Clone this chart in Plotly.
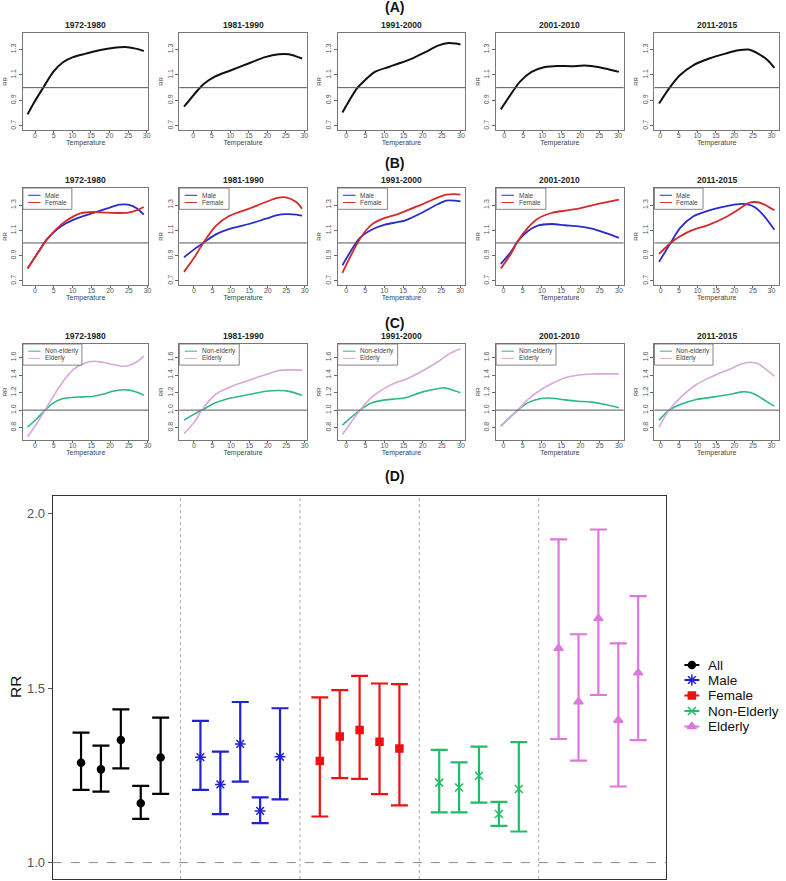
import plotly.graph_objects as go

W, H = 786, 881

periods = ["1972-1980", "1981-1990", "1991-2000", "2001-2010", "2011-2015"]

# ---------------- Panel A: all ----------------
tempA = [
    [-2.0, -0.4, 2.2, 4.9, 7.5, 10.2, 13.7, 17.2, 20.8, 24.3, 27.0, 29.2],
    [-2.5, 1.2, 3.0, 5.7, 10.2, 14.9, 19.4, 23.1, 25.8, 29.4],
    [-1.0, 2.7, 4.0, 7.5, 11.1, 13.7, 17.2, 20.7, 24.2, 26.8, 28.6, 29.9],
    [-0.9, 1.9, 4.1, 7.2, 10.7, 14.2, 17.7, 21.2, 24.7, 27.4, 30.2],
    [-0.3, 2.7, 5.3, 8.9, 13.2, 17.6, 21.1, 23.8, 26.4, 29.0, 30.8],
]
rrA = [
    [0.79, 0.876, 1.0, 1.124, 1.20, 1.24, 1.268, 1.294, 1.312, 1.32, 1.307, 1.289],
    [0.85, 0.98, 1.033, 1.085, 1.137, 1.19, 1.24, 1.263, 1.263, 1.229],
    [0.805, 0.99, 1.033, 1.124, 1.163, 1.19, 1.229, 1.28, 1.333, 1.351, 1.347, 1.339],
    [0.829, 0.955, 1.046, 1.124, 1.163, 1.171, 1.169, 1.174, 1.163, 1.145, 1.124],
    [0.876, 1.006, 1.098, 1.176, 1.229, 1.268, 1.294, 1.30, 1.268, 1.216, 1.155],
]

# ---------------- Panel B: sex ----------------
tempB = [
    [-2.0, 0.45, 3.1, 5.8, 8.4, 11.9, 15.5, 19.0, 22.5, 24.8, 27.0, 29.0],
    [-2.7, 0.3, 2.5, 5.8, 9.4, 14.9, 19.5, 22.6, 24.9, 27.7, 29.3],
    [-1.0, 3.6, 6.7, 10.2, 13.2, 15.4, 19.8, 24.2, 26.4, 28.6, 30.1],
    [-0.7, 1.9, 3.7, 6.3, 8.9, 12.5, 16.0, 19.5, 23.0, 26.5, 30.0],
    [-0.4, 2.7, 5.3, 8.9, 13.2, 17.6, 21.1, 23.8, 25.6, 27.8, 30.8],
]
maleB = [
    [0.797, 0.908, 1.026, 1.105, 1.158, 1.203, 1.237, 1.271, 1.303, 1.303, 1.277, 1.224],
    [0.887, 0.955, 1.0, 1.066, 1.11, 1.150, 1.192, 1.22, 1.228, 1.225, 1.216],
    [0.823, 1.040, 1.105, 1.145, 1.163, 1.177, 1.237, 1.308, 1.335, 1.335, 1.329],
    [0.834, 0.929, 1.013, 1.092, 1.137, 1.150, 1.140, 1.132, 1.113, 1.079, 1.040],
    [0.850, 1.0, 1.119, 1.211, 1.258, 1.290, 1.308, 1.303, 1.28, 1.22, 1.105],
]
femaleB = [
    [0.797, 0.908, 1.026, 1.113, 1.177, 1.232, 1.245, 1.240, 1.237, 1.240, 1.258, 1.285],
    [0.771, 0.895, 1.0, 1.132, 1.211, 1.271, 1.324, 1.356, 1.361, 1.324, 1.271],
    [0.763, 1.032, 1.145, 1.198, 1.224, 1.250, 1.303, 1.361, 1.382, 1.387, 1.382],
    [0.797, 0.913, 1.013, 1.119, 1.192, 1.237, 1.256, 1.271, 1.298, 1.321, 1.343],
    [0.913, 1.0, 1.053, 1.105, 1.145, 1.203, 1.264, 1.316, 1.324, 1.308, 1.258],
]

# ---------------- Panel C: age ----------------
tempC = [
    [-2.0, 0.45, 2.65, 4.9, 7.5, 10.2, 12.8, 15.5, 18.0, 20.8, 23.4, 25.2, 27.4, 29.0],
    [-2.7, 0.3, 2.1, 5.8, 10.3, 14.9, 19.5, 23.1, 25.8, 29.3],
    [-1.0, 3.6, 6.7, 10.2, 13.2, 15.4, 19.8, 24.2, 25.6, 27.4, 29.9],
    [-0.7, 3.7, 6.3, 9.8, 12.5, 16.0, 19.5, 23.0, 26.5, 30.0],
    [-0.4, 2.3, 5.3, 9.7, 14.1, 18.5, 22.0, 24.3, 26.4, 28.6, 30.8],
]
nonelderlyC = [
    [0.807, 0.902, 1.0, 1.083, 1.133, 1.146, 1.151, 1.158, 1.18, 1.216, 1.232, 1.228, 1.20, 1.17],
    [0.886, 0.96, 1.0, 1.083, 1.140, 1.178, 1.216, 1.223, 1.214, 1.170],
    [0.830, 1.0, 1.083, 1.117, 1.129, 1.140, 1.205, 1.246, 1.254, 1.235, 1.197],
    [0.818, 1.0, 1.083, 1.133, 1.136, 1.117, 1.102, 1.091, 1.064, 1.027],
    [0.886, 1.0, 1.064, 1.121, 1.148, 1.178, 1.208, 1.20, 1.16, 1.10, 1.045],
]
elderlyC = [
    [0.697, 0.848, 1.0, 1.159, 1.330, 1.462, 1.527, 1.557, 1.545, 1.519, 1.50, 1.511, 1.557, 1.614],
    [0.731, 0.875, 1.0, 1.178, 1.273, 1.341, 1.405, 1.451, 1.458, 1.455],
    [0.723, 1.0, 1.148, 1.254, 1.318, 1.348, 1.443, 1.557, 1.60, 1.652, 1.70],
    [0.818, 1.0, 1.121, 1.235, 1.30, 1.368, 1.40, 1.412, 1.413, 1.413],
    [0.807, 1.0, 1.140, 1.292, 1.386, 1.462, 1.527, 1.545, 1.527, 1.462, 1.386],
]

# ---------------- Panel D: overall RR with CI ----------------
groups = ["All", "Male", "Female", "Non-Elderly", "Elderly"]
rr_all = [1.286, 1.267, 1.351, 1.170, 1.301]
lo_all = [1.208, 1.203, 1.270, 1.125, 1.197]
hi_all = [1.372, 1.335, 1.439, 1.220, 1.415]
rr_male = [1.302, 1.224, 1.340, 1.148, 1.303]
lo_male = [1.208, 1.139, 1.232, 1.113, 1.181]
hi_male = [1.406, 1.318, 1.460, 1.187, 1.442]
rr_female = [1.291, 1.361, 1.380, 1.346, 1.327]
lo_female = [1.132, 1.242, 1.240, 1.196, 1.164]
hi_female = [1.473, 1.494, 1.535, 1.513, 1.511]
rr_nonelderly = [1.229, 1.215, 1.249, 1.139, 1.211]
lo_nonelderly = [1.144, 1.144, 1.172, 1.105, 1.089]
hi_nonelderly = [1.323, 1.287, 1.332, 1.174, 1.345]
rr_elderly = [1.614, 1.461, 1.699, 1.408, 1.544]
lo_elderly = [1.354, 1.292, 1.480, 1.218, 1.351]
hi_elderly = [1.926, 1.654, 1.954, 1.628, 1.763]

# ---------------- layout geometry (pixels) ----------------
col_px = [(23, 149), (180, 308), (339, 467), (498, 626), (657, 782)]
row_px = [(33, 130), (188, 285), (344, 440)]
row_yrange = [(0.667, 1.43), (0.667, 1.435), (0.66, 1.753)]
row_ticks = [[0.7, 0.9, 1.1, 1.3], [0.7, 0.9, 1.1, 1.3], [0.8, 1.0, 1.2, 1.4, 1.6]]
section_y = [7, 163, 323, 476]
section_lbl = ["(A)", "(B)", "(C)", "(D)"]
D_px = (53, 669, 496, 879)
leg_px = (678, 786, 655, 740)
leg_rows_y = [665, 680, 695.5, 711, 726.5]

FONT = "Liberation Sans, Arial, sans-serif"
BLUE_L = "#2B2BCB"
RED_L = "#D42A2A"
GREEN_L = "#2EB886"
PINK_L = "#D9A6DE"

def xd(a, b):
    return [a / W, b / W]

def yd(t, b):
    return [1 - b / H, 1 - t / H]

fig = go.Figure()
layout = dict(
    width=W, height=H, margin=dict(l=0, r=0, t=0, b=0),
    paper_bgcolor="white", plot_bgcolor="white",
    font=dict(family=FONT, color="#222"),
    showlegend=False,
)
shapes = []
annotations = []

series_by_row = [
    [(tempA, rrA, "#111111", 2.0)],
    [(tempB, maleB, BLUE_L, 1.8), (tempB, femaleB, RED_L, 1.8)],
    [(tempC, nonelderlyC, GREEN_L, 1.6), (tempC, elderlyC, PINK_L, 1.6)],
]
legend_rows = [None, ["Male", "Female"], ["Non-elderly", "Elderly"]]
legend_cols = [None, [BLUE_L, RED_L], [GREEN_L, PINK_L]]
legend_box_w = [None, 0.39, 0.47]

for r in range(3):
    for c in range(5):
        i = r * 5 + c + 1
        sx = "" if i == 1 else str(i)
        xa, ya = "x" + sx, "y" + sx
        t0 = series_by_row[r][0][0][c]
        span = max(t0) - min(t0)
        xr = [min(t0) - 0.04 * span, max(t0) + 0.04 * span]
        for (tt, vv, colr, lw) in series_by_row[r]:
            fig.add_trace(go.Scatter(
                x=tt[c], y=vv[c], mode="lines", xaxis=xa, yaxis=ya,
                line=dict(color=colr, width=lw, shape="spline", smoothing=0.8),
                showlegend=False, hoverinfo="skip"))
        layout["xaxis" + sx] = dict(
            domain=xd(*col_px[c]), anchor=ya, range=xr,
            tickmode="array", tickvals=[0, 5, 10, 15, 20, 25, 30],
            ticks="outside", ticklen=2, tickcolor="#666", tickwidth=0.8,
            tickfont=dict(size=7, color="#555"), ticklabelstandoff=-3,
            showline=True, mirror=True, linecolor="#777", linewidth=1,
            showgrid=False, zeroline=False,
            title=dict(text="Temperature", font=dict(size=7, color="#444"), standoff=0),
        )
        layout["yaxis" + sx] = dict(
            domain=yd(*row_px[r]), anchor=xa, range=list(row_yrange[r]),
            tickmode="array", tickvals=row_ticks[r],
            ticktext=["%.1f" % v for v in row_ticks[r]],
            tickangle=-90, ticks="outside", ticklen=3, tickcolor="#666", tickwidth=0.8,
            tickfont=dict(size=7, color="#555"),
            showline=True, mirror=True, linecolor="#777", linewidth=1,
            showgrid=False, zeroline=False,
            title=dict(text="RR", font=dict(size=6, color="#444"), standoff=2),
        )
        shapes.append(dict(type="line", xref=xa + " domain", yref=ya,
                           x0=0, x1=1, y0=1, y1=1,
                           line=dict(color="#555", width=1)))
        annotations.append(dict(
            text="<b>%s</b>" % periods[c], xref="paper", yref="paper",
            x=(col_px[c][0] + col_px[c][1]) / 2 / W, y=1 - (row_px[r][0] - 8) / H,
            xanchor="center", yanchor="middle", showarrow=False,
            font=dict(size=8.5, color="#222")))
        if legend_rows[r]:
            bw = legend_box_w[r]
            shapes.append(dict(type="rect", xref=xa + " domain", yref=ya + " domain",
                               x0=0, x1=bw, y0=0.78, y1=1,
                               line=dict(color="#666", width=0.8), fillcolor="white"))
            for k, (lbl, lc) in enumerate(zip(legend_rows[r], legend_cols[r])):
                yy = 0.925 - k * 0.075
                shapes.append(dict(type="line", xref=xa + " domain", yref=ya + " domain",
                                   x0=0.042, x1=0.14, y0=yy, y1=yy,
                                   line=dict(color=lc, width=1)))
                annotations.append(dict(
                    text=lbl, xref=xa + " domain", yref=ya + " domain",
                    x=0.16, y=yy, xanchor="left", yanchor="middle", showarrow=False,
                    font=dict(size=6.5, color="#444")))

for lbl, yy in zip(section_lbl, section_y):
    annotations.append(dict(
        text="<b>%s</b>" % lbl, xref="paper", yref="paper",
        x=396 / W, y=1 - yy / H, xanchor="center", yanchor="middle",
        showarrow=False, font=dict(size=14, color="#111")))

# ---------------- Panel D ----------------
dx, dy = "x16", "y16"
d_series = [
    ("All", rr_all, lo_all, hi_all, "#000000", "circle", 7, 1),
    ("Male", rr_male, lo_male, hi_male, "#2222CC", "asterisk-open", 9, 2),
    ("Female", rr_female, lo_female, hi_female, "#EE1111", "square", 7, 3),
    ("Non-Elderly", rr_nonelderly, lo_nonelderly, hi_nonelderly, "#22BB66", "x-thin-open", 8, 4),
    ("Elderly", rr_elderly, lo_elderly, hi_elderly, "#DD77DD", "triangle-up", 8, 5),
]
for name, rr, lo, hi, colr, sym, sz, g in d_series:
    xs = [g + (k - 2) / 6 for k in range(len(rr))]
    fig.add_trace(go.Scatter(
        x=xs, y=rr, mode="markers", xaxis=dx, yaxis=dy, name=name, showlegend=False,
        marker=dict(symbol=sym, size=sz, color=colr, line=dict(color=colr, width=1.5)),
        error_y=dict(type="data", symmetric=False,
                     array=[h - v for h, v in zip(hi, rr)],
                     arrayminus=[v - l for v, l in zip(rr, lo)],
                     color=colr, thickness=2.2, width=8.5),
        hoverinfo="skip"))

layout["xaxis16"] = dict(
    domain=xd(D_px[0], D_px[1]), anchor=dy, range=[0.43, 5.57],
    showticklabels=False, ticks="", showgrid=False, zeroline=False,
    showline=True, mirror=True, linecolor="#333", linewidth=1.2)
layout["yaxis16"] = dict(
    domain=yd(D_px[2], D_px[3]), anchor=dx, range=[0.953, 2.05],
    tickmode="array", tickvals=[1.0, 1.5, 2.0], ticktext=["1.0", "1.5", "2.0"],
    ticks="outside", ticklen=4, tickcolor="#555",
    tickfont=dict(size=13, color="#555"),
    showgrid=False, zeroline=False,
    showline=True, mirror=True, linecolor="#333", linewidth=1.2)
annotations.append(dict(text="RR", xref="paper", yref="paper",
                        x=15 / W, y=1 - 687 / H, xanchor="center", yanchor="middle",
                        textangle=-90, showarrow=False,
                        font=dict(size=15.5, color="#111")))
for xv in [1.5, 2.5, 3.5, 4.5]:
    shapes.append(dict(type="line", xref=dx, yref=dy + " domain", x0=xv, x1=xv, y0=0, y1=1,
                       line=dict(color="#AAAAAA", width=1, dash="dot")))
shapes.append(dict(type="line", xref=dx + " domain", yref=dy, x0=0, x1=1, y0=1.0, y1=1.0,
                   line=dict(color="#888888", width=1, dash="dash")))

# ---------------- Panel D legend (drawn in a hidden pixel-scaled axis) ----------------
lx, ly = "x17", "y17"
layout["xaxis17"] = dict(domain=xd(leg_px[0], leg_px[1]), anchor=ly,
                         range=[leg_px[0], leg_px[1]], visible=False, fixedrange=True)
layout["yaxis17"] = dict(domain=yd(leg_px[2], leg_px[3]), anchor=lx,
                         range=[leg_px[3], leg_px[2]], visible=False, fixedrange=True)
for (name, rr, lo, hi, colr, sym, sz, g), yrow in zip(d_series, leg_rows_y):
    shapes.append(dict(type="line", xref=lx, yref=ly, x0=687, x1=702, y0=yrow, y1=yrow,
                       line=dict(color=colr, width=1.8)))
    fig.add_trace(go.Scatter(
        x=[694.5], y=[yrow], mode="markers", xaxis=lx, yaxis=ly, showlegend=False,
        marker=dict(symbol=sym, size=sz, color=colr, line=dict(color=colr, width=1.5)),
        hoverinfo="skip"))
    annotations.append(dict(text=name, xref=lx, yref=ly, x=709, y=yrow,
                            xanchor="left", yanchor="middle", showarrow=False,
                            font=dict(size=13.5, color="#111")))

layout["shapes"] = shapes
layout["annotations"] = annotations

fig.update_layout(**layout)
fig.write_html("out.html", config={"displayModeBar": False},
               post_script="document.body.style.margin='0';")
